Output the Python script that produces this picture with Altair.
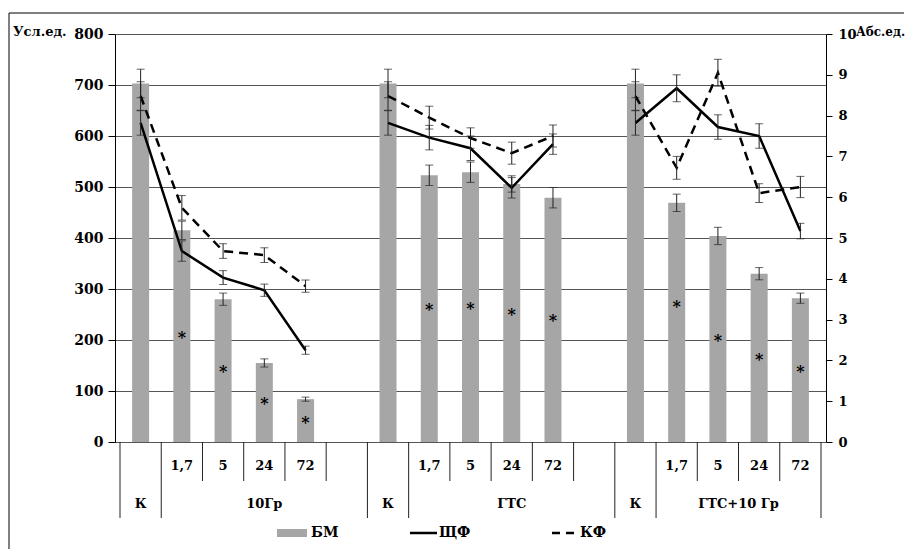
import altair as alt
import pandas as pd

# ---------------- data ----------------
data_slots = [0, 1, 2, 3, 4, 6, 7, 8, 9, 10, 12, 13, 14, 15, 16]
groups = [0, 0, 0, 0, 0, 1, 1, 1, 1, 1, 2, 2, 2, 2, 2]
bm = [703, 415, 280, 155, 84, 703, 523, 529, 506, 479, 703, 469, 404, 330, 282]
bm_err = [28, 18, 12, 8, 4, 28, 20, 20, 16, 20, 28, 17, 17, 12, 10]
shf = [7.82, 4.68, 4.03, 3.72, 2.25, 7.82, 7.46, 7.20, 6.23, 7.30, 7.82, 8.67, 7.72, 7.50, 5.17]
shf_err = [0.30, 0.25, 0.17, 0.15, 0.10, 0.30, 0.30, 0.30, 0.25, 0.25, 0.30, 0.33, 0.30, 0.30, 0.19]
kf = [8.48, 5.74, 4.68, 4.58, 3.82, 8.48, 7.95, 7.45, 7.08, 7.50, 8.48, 6.72, 9.05, 6.10, 6.25]
kf_err = [0.35, 0.30, 0.18, 0.18, 0.15, 0.35, 0.28, 0.25, 0.27, 0.27, 0.35, 0.28, 0.33, 0.23, 0.26]
star_slots = [1, 2, 3, 4, 7, 8, 9, 10, 13, 14, 15, 16]
star_y = [212, 145, 82, 45, 266, 269, 257, 245, 273, 206, 169, 145]
sub_slots = [1, 2, 3, 4, 7, 8, 9, 10, 13, 14, 15, 16]
sub_labels = ["1,7", "5", "24", "72"] * 3
group_pos = [0.5, 3.5, 6.5, 9.5, 12.5, 15.0]
group_labels = ["К", "10Гр", "К", "ГТС", "К", "ГТС+10 Гр"]
full_lines = [0, 1, 6, 7, 12, 13, 17]
short_lines = [2, 3, 4, 5, 8, 9, 10, 11, 14, 15, 16]
left_ticks = list(range(0, 801, 100))
right_ticks = list(range(0, 11))
LEFT_MAX, RIGHT_MAX = 800, 10

W, H = 711, 408
FONT = "DejaVu Serif"
GRAY = "#A6A6A6"
K = LEFT_MAX / RIGHT_MAX  # right-axis units -> left-axis units

df_bm = pd.DataFrame({"x": [s + 0.5 for s in data_slots], "bm": bm, "err": bm_err})
df_bm["lo"] = df_bm["bm"] - df_bm["err"]
df_bm["hi"] = df_bm["bm"] + df_bm["err"]

df_ln = pd.DataFrame({"x": [s + 0.5 for s in data_slots], "grp": groups,
                      "shf": shf, "se": shf_err, "kf": kf, "ke": kf_err})

df_star = pd.DataFrame({"x": [s + 0.5 for s in star_slots], "sy": star_y})
df_sub = pd.DataFrame({"x": [s + 0.5 for s in sub_slots], "lab": sub_labels})
df_grp = pd.DataFrame({"x": group_pos, "lab": group_labels})
df_full = pd.DataFrame({"b": full_lines})
df_short = pd.DataFrame({"b": short_lines})
one = pd.DataFrame({"a": [0]})

XS = alt.Scale(domain=[0, 17], nice=False, zero=False)
YS = alt.Scale(domain=[0, LEFT_MAX], nice=False)


def X(field="x"):
    return alt.X(f"{field}:Q", scale=XS, axis=None)


def Y(field, axis=None):
    return alt.Y(f"{field}:Q", scale=YS, axis=axis)


left_axis = alt.Axis(orient="left", values=left_ticks, grid=True, gridColor="#555555", gridWidth=1,
                     domainColor="black", tickColor="black", tickSize=7, labelPadding=5,
                     labelFont=FONT, labelFontSize=14, labelFontWeight="bold",
                     labelColor="black", title=None)
right_axis = alt.Axis(orient="right", values=[v * K for v in right_ticks], grid=False,
                      labelExpr=f"format(datum.value / {K}, 'd')",
                      domainColor="black", tickColor="black", tickSize=6, labelPadding=6,
                      labelFont=FONT, labelFontSize=13, labelFontWeight="bold",
                      labelColor="black", title=None)

# ---------- БМ ----------
bars = alt.Chart(df_bm).mark_bar(size=17, color=GRAY).encode(x=X(), y=Y("bm", left_axis))
bm_rule = alt.Chart(df_bm).mark_rule(color="#222222", strokeWidth=1).encode(
    x=X(), y=Y("lo"), y2="hi:Q")
bm_cap_lo = alt.Chart(df_bm).mark_tick(orient="horizontal", size=8, thickness=1, color="#222222").encode(
    x=X(), y=Y("lo"))
bm_cap_hi = alt.Chart(df_bm).mark_tick(orient="horizontal", size=8, thickness=1, color="#222222").encode(
    x=X(), y=Y("hi"))
stars = alt.Chart(df_star).mark_text(text="*", font=FONT, fontSize=16, fontWeight="bold",
                                     color="black", baseline="middle", dy=4).encode(
    x=X(), y=Y("sy"))

# ---------- ЩФ, КФ (right axis, scaled onto the shared scale) ----------
ln = alt.Chart(df_ln).transform_calculate(
    shf_s=f"datum.shf * {K}",
    shf_lo=f"(datum.shf - datum.se) * {K}",
    shf_hi=f"(datum.shf + datum.se) * {K}",
    kf_s=f"datum.kf * {K}",
    kf_lo=f"(datum.kf - datum.ke) * {K}",
    kf_hi=f"(datum.kf + datum.ke) * {K}",
)
shf_line = ln.mark_line(color="black", strokeWidth=2.5).encode(
    x=X(), y=Y("shf_s", right_axis), detail="grp:N")
kf_line = ln.mark_line(color="black", strokeWidth=2.5, strokeDash=[9, 6]).encode(
    x=X(), y=Y("kf_s"), detail="grp:N")
err_layers = []
for lo, hi in [("shf_lo", "shf_hi"), ("kf_lo", "kf_hi")]:
    err_layers.append(ln.mark_rule(color="#222222", strokeWidth=1).encode(
        x=X(), y=Y(lo), y2=f"{hi}:Q"))
    for f in (lo, hi):
        err_layers.append(ln.mark_tick(orient="horizontal", size=8, thickness=1,
                                       color="#222222").encode(x=X(), y=Y(f)))

# ---------- decorations (pixel-positioned) ----------
frame_l = alt.Chart(one).mark_rule(color="black", strokeWidth=1).encode(
    x=alt.value(-106), y=alt.value(-21), y2=alt.value(515))
frame_t = alt.Chart(one).mark_rule(color="black", strokeWidth=1).encode(
    x=alt.value(-106), x2=alt.value(789), y=alt.value(-21))
t_left = alt.Chart(one).mark_text(text="Усл.ед.", font=FONT, fontSize=13, fontWeight="bold",
                                  color="black", align="left", baseline="middle").encode(
    x=alt.value(-102), y=alt.value(-2))
t_right = alt.Chart(one).mark_text(text="Абс.ед.", font=FONT, fontSize=12, fontWeight="bold",
                                   color="black", align="left", baseline="middle").encode(
    x=alt.value(741), y=alt.value(-2))

full_rules = alt.Chart(df_full).mark_rule(color="#222222", strokeWidth=1).encode(
    x=X("b"), y=alt.value(H), y2=alt.value(H + 76))
short_rules = alt.Chart(df_short).mark_rule(color="#222222", strokeWidth=1).encode(
    x=X("b"), y=alt.value(H), y2=alt.value(H + 39))
sub_text = alt.Chart(df_sub).mark_text(font=FONT, fontSize=13, fontWeight="bold",
                                       color="black", baseline="middle").encode(
    x=X(), y=alt.value(H + 24), text="lab:N")
grp_text = alt.Chart(df_grp).mark_text(font=FONT, fontSize=13, fontWeight="bold",
                                       color="black", baseline="middle").encode(
    x=X(), y=alt.value(H + 62), text="lab:N")

leg_rect = alt.Chart(one).mark_rect(color=GRAY).encode(
    x=alt.value(162), x2=alt.value(192), y=alt.value(495), y2=alt.value(503))
leg_t1 = alt.Chart(one).mark_text(text="БМ", font=FONT, fontSize=14, fontWeight="bold",
                                  color="black", align="left", baseline="middle").encode(
    x=alt.value(196), y=alt.value(499))
leg_l2 = alt.Chart(one).mark_rule(color="black", strokeWidth=2.5).encode(
    x=alt.value(295), x2=alt.value(322), y=alt.value(499))
leg_t2 = alt.Chart(one).mark_text(text="ЩФ", font=FONT, fontSize=14, fontWeight="bold",
                                  color="black", align="left", baseline="middle").encode(
    x=alt.value(324), y=alt.value(499))
leg_l3 = alt.Chart(one).mark_rule(color="black", strokeWidth=2.5, strokeDash=[8, 6]).encode(
    x=alt.value(437), x2=alt.value(463), y=alt.value(499))
leg_t3 = alt.Chart(one).mark_text(text="КФ", font=FONT, fontSize=14, fontWeight="bold",
                                  color="black", align="left", baseline="middle").encode(
    x=alt.value(465), y=alt.value(499))

chart = alt.layer(
    bars, bm_rule, bm_cap_lo, bm_cap_hi, stars,
    shf_line, kf_line, *err_layers,
    frame_l, frame_t, t_left, t_right,
    full_rules, short_rules, sub_text, grp_text,
    leg_rect, leg_t1, leg_l2, leg_t2, leg_l3, leg_t3,
).resolve_axis(y="independent").properties(
    width=W, height=H, background="white",
    padding={"left": 0, "top": 4, "right": 0, "bottom": 0},
).configure_view(stroke=None)

chart.save("out.html", embed_options={"renderer": "svg", "actions": False})
